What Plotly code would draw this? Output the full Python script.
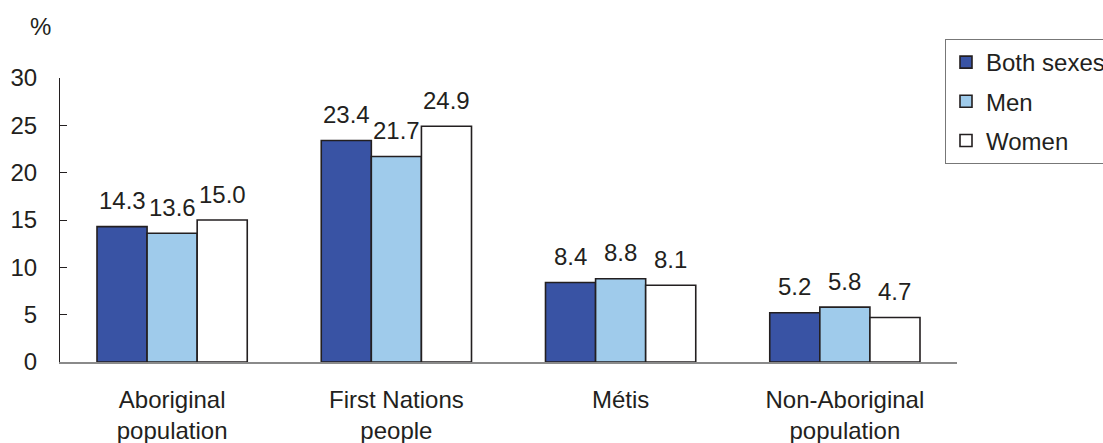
import plotly.graph_objects as go

categories = ["Aboriginal<br>population", "First Nations<br>people", "Métis", "Non-Aboriginal<br>population"]
both_sexes = [14.3, 23.4, 8.4, 5.2]
men = [13.6, 21.7, 8.8, 5.8]
women = [15.0, 24.9, 8.1, 4.7]
series_names = ["Both sexes", "Men", "Women"]
series_colors = ["#3953a4", "#9fcbeb", "#ffffff"]
y_ticks = [0, 5, 10, 15, 20, 25, 30]

dark = "#231f20"
font_family = "Liberation Sans, Arial, sans-serif"
FS = 24

W, H = 1103, 443
L, R, T, B = 60, 146, 78, 81
pw, ph = W - L - R, H - T - B
BARGAP = 0.33

series = [both_sexes, men, women]
fig = go.Figure()
for name, vals, col in zip(series_names, series, series_colors):
    fig.add_trace(go.Bar(
        x=categories, y=vals, name=name, legendgroup=name,
        marker=dict(color=col, line=dict(color=dark, width=1.6)),
        cliponaxis=False,
    ))

# value labels, centred over each bar of the group
band = pw / len(categories)
bar_w = band * (1 - BARGAP) / len(series)
annotations = []
for i, vals in enumerate(series):
    shift = (i - (len(series) - 1) / 2) * bar_w
    for cat, v in zip(categories, vals):
        annotations.append(dict(
            x=cat, y=v, xref="x", yref="y", text=f"{v:.1f}", showarrow=False,
            xshift=shift, yshift=26, xanchor="center", yanchor="middle",
            font=dict(size=FS, color=dark, family=font_family),
        ))
annotations.append(dict(
    text="%", xref="paper", yref="paper",
    x=(40 - L) / pw, y=(H - B - 27) / ph, showarrow=False,
    font=dict(size=FS, color=dark), xanchor="center", yanchor="middle",
))

fig.update_layout(
    width=W, height=H,
    margin=dict(l=L, r=R, t=T, b=B, autoexpand=False),
    plot_bgcolor="white", paper_bgcolor="white",
    barmode="group", bargap=BARGAP, bargroupgap=0,
    font=dict(family=font_family, size=FS, color=dark),
    showlegend=True,
    legend=dict(
        xref="container", yref="container", x=945/W, y=1-39/H,
        xanchor="left", yanchor="top",
        bordercolor="#777777", borderwidth=1, bgcolor="white",
        font=dict(size=FS, color=dark, family=font_family),
        tracegroupgap=5, itemclick=False,
    ),
    xaxis=dict(
        showline=True, linecolor="#8a8a8a", linewidth=1.5,
        ticks="outside", ticklen=15, tickcolor="rgba(0,0,0,0)",
        tickfont=dict(size=FS, color=dark),
        showgrid=False, zeroline=False,
    ),
    yaxis=dict(
        range=[0, 30], tickvals=y_ticks, showgrid=False, zeroline=False,
        showline=True, linecolor=dark, linewidth=1,
        ticks="inside", ticklen=7, tickcolor=dark,
        tickfont=dict(size=FS, color=dark), ticklabelstandoff=17,
    ),
    annotations=annotations,
)

fig.write_html("out.html")
